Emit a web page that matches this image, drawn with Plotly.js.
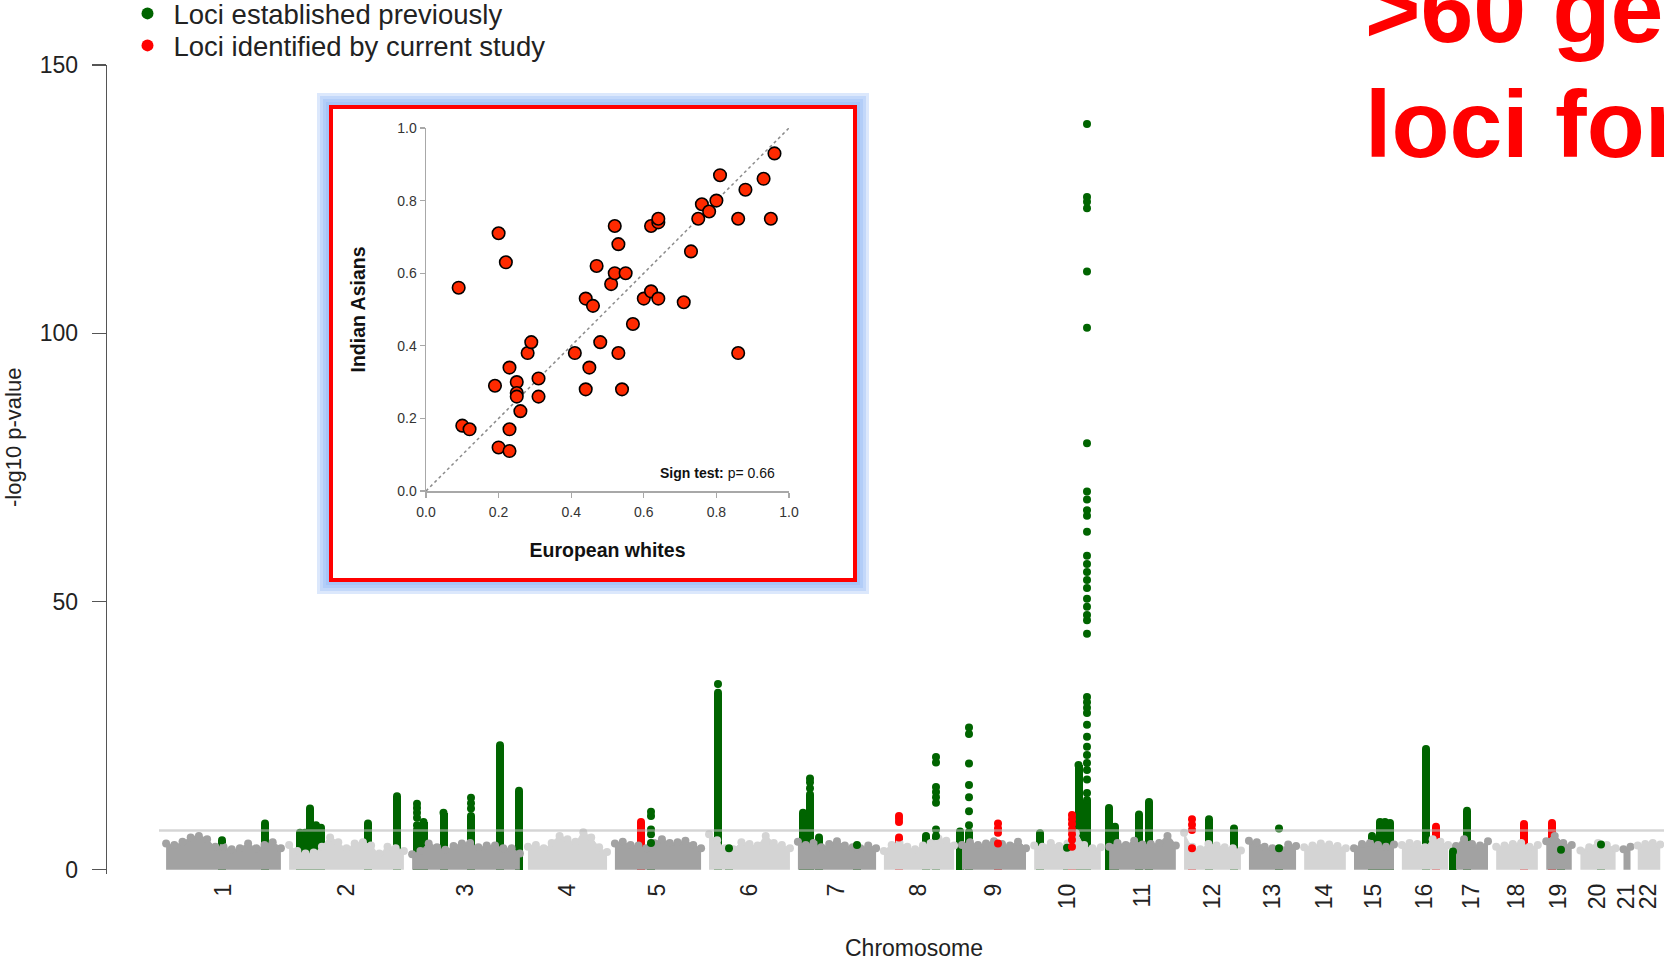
<!DOCTYPE html>
<html>
<head>
<meta charset="utf-8">
<script src="https://cdn.plot.ly/plotly-3.0.1.min.js"></script>
<style>
html,body{margin:0;padding:0;background:#fff;}
#chart{width:1664px;height:961px;}
</style>
</head>
<body>
<div id="chart"></div>
<script>
// ---------------- DATA ----------------
// chromosomes (genome position units)
const chrNames = ['1','2','3','4','5','6','7','8','9','10','11','12','13','14','15','16','17','18','19','20','21','22'];
const chrLen = [246,246,232,174,188,178,172,156,144,150,150,130,110,100,96,108,80,100,68,88,28,60];

// background (non-significant SNP cloud) envelope heights, -log10 p, per chromosome
const bgEnvelope = [
  [4.9,4.6,5.2,6.0,6.3,5.7,4.3,4.3,3.8,4.0,4.9,4.0,4.6,5.1,4.0],
  [4.6,3.5,3.0,3.2,4.3,6.0,5.1,4.0,4.9,5.1,4.5,3.0,4.3,4.0,3.5],
  [2.9,3.5,4.9,4.2,3.7,4.4,4.9,5.0,4.2,4.5,4.5,4.0,4.0,3.0],
  [4.3,4.6,4.0,5.0,6.3,5.7,5.2,7.0,6.0,4.2,3.3],
  [4.9,5.2,4.6,4.5,4.0,5.0,5.7,5.0,5.1,5.4,4.6,4.0],
  [6.6,5.5,4.0,3.8,5.1,4.8,4.5,6.3,5.0,4.6,4.0],
  [5.2,4.6,5.0,4.2,4.8,5.3,4.5,4.2,4.0,4.5,4.0],
  [3.5,4.6,5.0,4.3,3.8,4.5,5.0,5.8,5.4,4.5],
  [4.6,5.1,4.6,4.9,5.3,4.8,4.5,5.2,4.0],
  [4.5,4.3,5.0,4.4,4.9,6.8,4.6,4.0,4.2],
  [4.3,5.0,4.6,5.4,4.7,4.8,5.0,6.3,4.5],
  [6.9,4.3,3.8,4.8,4.5,4.2,4.0,3.6],
  [5.4,5.1,4.3,4.0,3.8,4.7,4.4],
  [4.2,4.5,4.9,4.7,4.4,4.0],
  [4.0,4.8,5.0,4.6,4.3,4.7],
  [4.6,5.0,4.8,4.2,5.7,5.2,4.6],
  [4.4,5.7,4.8,4.5,5.3],
  [4.3,4.5,4.8,5.0,4.3,4.6],
  [5.3,6.3,5.0,4.6],
  [3.6,4.2,5.0,4.6,4.0],
  [3.8,4.3],
  [4.5,4.8,5.0,4.7]
];

// Loci established previously (green)
const greenChr = [1,1,2,2,2,2,2,2,2,3,3,3,3,3,3,5,6,6,7,7,7,7,8,8,9,9,10,10,10,10,11,11,11,11,12,12,13,15,15,15,15,16,17,17,19,20];
const greenPos = [120,206,30,40,50,62,72,166,224,18,31,71,126,184,222,80,26,48,18,32,50,126,92,112,4,22,20,74,97,114,8,20,68,88,58,108,68,44,60,70,80,56,2,30,38,50];
const greenTop = [5.5,8.6,6.9,6.9,11.4,8.3,7.8,8.6,13.7,7.4,8.9,10.6,10.0,23.2,14.7,5.0,33.0,4.0,10.6,14.0,6.0,4.6,6.3,6.3,7.1,7.0,6.8,4.1,19.5,13.0,11.5,8.0,10.3,12.6,9.4,7.7,4.0,6.3,8.9,8.9,8.7,22.5,3.4,11.0,3.7,4.7];
const greenExtra = [
  [],[],[],[],[],[],[],[],[],
  [8.3,9.7,10.6,11.5,12.3],
  [],[],
  [11.4,12.4,13.4],
  [],[],
  [6.6,7.5,10.0,10.8],
  [34.6],[],
  [],[15.2,16.3,17.0],[],[],
  [],[7.5,12.5,13.5,14.5,15.4,20.0,21.0],
  [],[8.3,10.9,13.5,15.8,19.8,25.3,26.5],
  [],[],[],
  [14.3,16.8,18.6,19.9,21.4,22.9,24.8,27.0,29.2,30.2,31.2,32.2,44.0,46.5,47.5,49.0,50.5,52.5,54.0,55.5,57.0,58.5,63.0,66.0,67.0,69.0,70.5,79.5,101.0,111.5,123.3,124.5,125.4,139.0],
  [],[],[],[],
  [],[],
  [7.7],
  [],[],[],[],
  [],
  [],[],
  [],[]
];

// Loci identified by current study (red)
const redChr = [5,8,9,10,12,16,18,19];
const redPos = [60,38,80,84,24,76,64,20];
const redTop = [8.9,6.0,4.9,4.3,4.0,8.0,8.5,8.7];
const redExtra = [[],[8.9,9.5,10.0],[6.9,7.7,8.6],[5.6,6.6,7.5,8.5,9.4,10.2],[7.4,8.4,9.4],[],[],[]];

const sigThreshold = 7.3;           // genome-wide significance, -log10(5e-8)
const yTickVals = [0,50,100,150];

// Inset: comparison between populations
const insetEuropean = [0.09,0.20,0.22,0.10,0.12,0.20,0.23,0.23,0.19,0.23,0.25,0.25,0.25,0.26,0.28,0.29,0.31,0.31,0.41,0.44,0.45,0.48,0.53,0.54,0.44,0.46,0.47,0.51,0.52,0.55,0.52,0.53,0.57,0.60,0.62,0.64,0.62,0.64,0.64,0.71,0.73,0.75,0.76,0.78,0.80,0.81,0.86,0.88,0.93,0.95,0.96,0.86];
const insetIndian   = [0.56,0.71,0.63,0.18,0.17,0.12,0.11,0.17,0.29,0.34,0.30,0.27,0.26,0.22,0.38,0.41,0.31,0.26,0.38,0.28,0.34,0.41,0.38,0.28,0.53,0.51,0.62,0.57,0.60,0.60,0.73,0.68,0.46,0.53,0.55,0.53,0.73,0.74,0.75,0.52,0.66,0.75,0.79,0.77,0.80,0.87,0.75,0.83,0.86,0.75,0.93,0.38];
const insetTickVals = [0,0.2,0.4,0.6,0.8,1.0];
const diagX = [0,1], diagY = [0,1];
const signTestP = '0.66';

// ---------------- BUILD ----------------
const W = 1664, H = 961;
const M = {l:107, r:0, t:65, b:87};
const PW = W - M.l - M.r, PH = H - M.t - M.b;
const pX = px => (px - M.l) / PW;
const pY = py => (H - M.b - py) / PH;

const chrStart = [];
let acc = 0;
chrLen.forEach(L => { chrStart.push(acc); acc += L; });
const genomeEnd = acc;
const chrMid = chrLen.map((L,i) => chrStart[i] + L/2);

const FONT = 'Liberation Sans, Arial, Helvetica, sans-serif';
const DARK = '#a2a2a2', LIGHT = '#d4d4d4';
const GREEN = '#006400', RED = '#ff0000';

const traces = [];

// background clouds
bgEnvelope.forEach((hs, c) => {
  const n = hs.length;
  const xs = hs.map((_, i) => chrStart[c] + (i + 0.5) * chrLen[c] / n);
  const col = (c % 2 === 0) ? DARK : LIGHT;
  traces.push({
    type:'scatter', mode:'lines+markers', x: xs, y: hs,
    fill:'tozeroy', fillcolor: col,
    line:{color: col, width: 1, shape:'spline'},
    marker:{color: col, size: 8},
    cliponaxis:false, hoverinfo:'skip', showlegend:false, xaxis:'x', yaxis:'y'
  });
});

function locusX(chr, pos) { return chrStart[chr-1] + pos; }

function addLoci(chrs, poss, tops, extras, color, name, legendId) {
  const bx = chrs.map((c,i) => locusX(c, poss[i]));
  traces.push({
    type:'bar', x: bx, y: tops, width: 16, base: 0,
    marker:{color: color, line:{width:0}},
    hoverinfo:'skip', showlegend:false, xaxis:'x', yaxis:'y', cliponaxis:false
  });
  const dx = [], dy = [];
  bx.forEach((x, i) => {
    dx.push(x); dy.push(tops[i]);
    extras[i].forEach(v => { dx.push(x); dy.push(v); });
  });
  traces.push({
    type:'scatter', mode:'markers', x: dx, y: dy, name: name, legend: legendId,
    marker:{color: color, size: 8},
    cliponaxis:false, hoverinfo:'skip', showlegend:true, xaxis:'x', yaxis:'y'
  });
}
addLoci(greenChr, greenPos, greenTop, greenExtra, GREEN, 'Loci established previously', 'legend');
addLoci(redChr, redPos, redTop, redExtra, RED, 'Loci identified by current study', 'legend2');

// inset
traces.push({
  type:'scatter', mode:'lines', x: diagX, y: diagY,
  line:{color:'#8a8a8a', width:1.5, dash:'dot'},
  hoverinfo:'skip', showlegend:false, xaxis:'x2', yaxis:'y2'
});
traces.push({
  type:'scatter', mode:'markers', x: insetEuropean, y: insetIndian,
  marker:{color:'#ff2a00', size:12.5, line:{color:'#000', width:1.6}},
  cliponaxis:false, hoverinfo:'skip', showlegend:false, xaxis:'x2', yaxis:'y2'
});

// inset frame geometry (pixels -> paper)
const box = {x0: pX(331), x1: pX(855), y0: pY(580), y1: pY(107)};
const shapes = [];
[28, 22, 16, 10].forEach(w => {
  shapes.push({type:'rect', xref:'paper', yref:'paper', x0:box.x0, x1:box.x1, y0:box.y0, y1:box.y1,
    line:{color:'rgba(140,178,245,0.30)', width:w}, fillcolor:'rgba(0,0,0,0)', layer:'below'});
});
shapes.push({type:'rect', xref:'paper', yref:'paper', x0:box.x0, x1:box.x1, y0:box.y0, y1:box.y1,
  line:{color:'#ff0000', width:4}, fillcolor:'#ffffff', layer:'below'});
shapes.push({type:'line', xref:'x', yref:'y', x0:-6, x1:genomeEnd, y0:sigThreshold, y1:sigThreshold,
  line:{color:'rgba(185,185,185,0.6)', width:2.5}, layer:'above'});

const annotations = [
  {xref:'paper', yref:'paper', x:pX(13), y:pY(438), text:'-log10 p-value', textangle:-90,
   showarrow:false, xanchor:'center', yanchor:'middle', font:{family:FONT, size:22, color:'#222'}},
  {xref:'paper', yref:'paper', x:pX(914), y:pY(948), text:'Chromosome',
   showarrow:false, xanchor:'center', yanchor:'middle', font:{family:FONT, size:23, color:'#222'}},
  {xref:'paper', yref:'paper', x:pX(1363), y:pY(8.5), text:'<b>>60 genetic</b>',
   showarrow:false, xanchor:'left', yanchor:'middle', font:{family:FONT, size:95, color:'#ff0000'}},
  {xref:'paper', yref:'paper', x:pX(1363), y:pY(124.5), text:'<b>loci for</b>',
   showarrow:false, xanchor:'left', yanchor:'middle', font:{family:FONT, size:95, color:'#ff0000'}},
  {xref:'x2', yref:'y2', x:0.967, y:0.05, text:'<b>Sign test:</b> p= ' + signTestP,
   showarrow:false, xanchor:'right', yanchor:'middle', font:{family:FONT, size:14, color:'#111'}}
];

const insetAxisCommon = {
  range:[0,1], tickvals: insetTickVals, tickformat:'.1f',
  ticks:'outside', ticklen:5, tickwidth:1.2, tickcolor:'#a8a8a8',
  showline:true, linecolor:'#a8a8a8', linewidth:1.5,
  showgrid:false, zeroline:false, fixedrange:true,
  tickfont:{family:FONT, size:14, color:'#333'}
};

const legendCommon = {
  xanchor:'left', yanchor:'top', font:{family:FONT, size:27.5, color:'#222'},
  bgcolor:'rgba(0,0,0,0)', itemsizing:'constant', itemwidth:42, borderwidth:0
};

const layout = {
  width: W, height: H,
  margin: {l:M.l, r:M.r, t:M.t, b:M.b, pad:0, autoexpand:false},
  paper_bgcolor:'#ffffff', plot_bgcolor:'rgba(0,0,0,0)',
  font:{family:FONT, color:'#222'},
  hovermode:false,
  barmode:'overlay', bargap:0,
  showlegend:true,
  legend: Object.assign({}, legendCommon, {x:pX(121.5), y:pY(-11)}),
  legend2: Object.assign({}, legendCommon, {x:pX(121.5), y:pY(21)}),
  xaxis:{domain:[0,1], range:[-110, genomeEnd], showline:false, zeroline:false, showgrid:false,
         ticks:'', tickvals: chrMid, ticktext: chrNames, tickangle:-90, ticklabelstandoff:4,
         tickfont:{family:FONT, size:23, color:'#222'}, fixedrange:true, anchor:'y'},
  yaxis:{domain:[0,1], range:[-0.8,150], tickvals: yTickVals, ticks:'outside', ticklen:14,
         tickwidth:1.3, tickcolor:'#555', showline:true, linecolor:'#555', linewidth:1.3,
         showgrid:false, zeroline:false, fixedrange:true, anchor:'x',
         tickfont:{family:FONT, size:23, color:'#222'}, ticklabelstandoff:9},
  xaxis2: Object.assign({}, insetAxisCommon, {
    domain:[pX(426), pX(789)], anchor:'y2', ticklabelstandoff:3,
    title:{text:'European whites', standoff:24, font:{family:FONT, size:19.5, color:'#111', weight:700}}
  }),
  yaxis2: Object.assign({}, insetAxisCommon, {
    domain:[pY(491), pY(128)], anchor:'x2',
    title:{text:'Indian Asians', standoff:26, font:{family:FONT, size:19.5, color:'#111', weight:700}}
  }),
  shapes: shapes,
  annotations: annotations
};

Plotly.newPlot('chart', traces, layout, {displayModeBar:false, staticPlot:true});
</script>
</body>
</html>
